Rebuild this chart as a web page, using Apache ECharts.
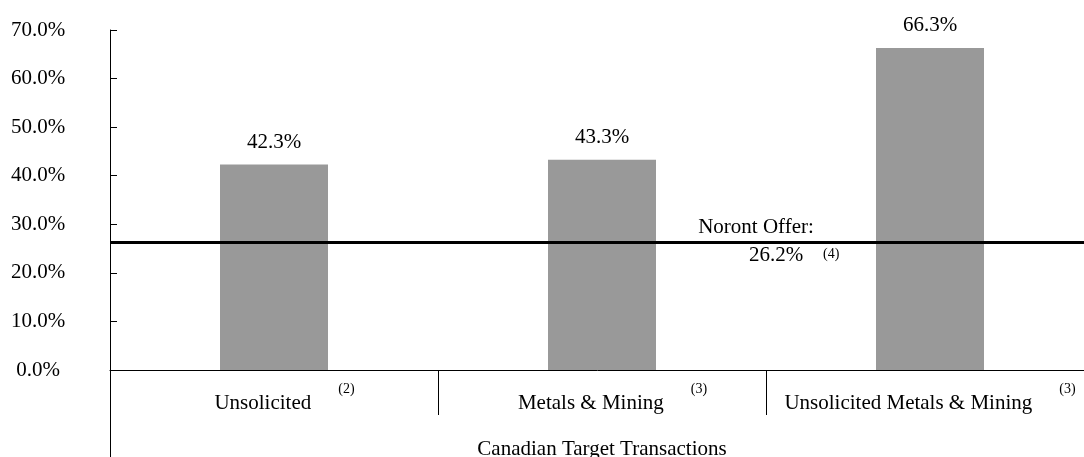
<!DOCTYPE html>
<html>
<head>
<meta charset="utf-8">
<script src="https://cdn.jsdelivr.net/npm/echarts@6/dist/echarts.min.js"></script>
<style>
  html, body { margin: 0; padding: 0; background: #fff; }
  #chart { width: 1084px; height: 457px; }
</style>
</head>
<body>
<div id="chart"></div>
<script>
// Premium paid in Canadian target transactions vs. the Noront offer
const categories = ['Unsolicited', 'Metals & Mining', 'Unsolicited Metals & Mining'];
const footnotes = ['(2)', '(3)', '(3)'];
const premiums = [42.3, 43.3, 66.3];
const groupLabel = 'Canadian Target Transactions';
const yMin = 0, yMax = 70, yStep = 10;
const offerPremium = 26.2;
const offerTitle = 'Noront Offer:';
const offerNote = '(4)';

const FONT = "'Liberation Serif', 'Times New Roman', serif";
const FS = 21;
const pct = v => Number(v).toFixed(1) + '%';

const chart = echarts.init(document.getElementById('chart'));

// left padding of each category name so the name + note pair sits in its band
const namePad = [21, 21, 0];
const rich = { s: { fontFamily: FONT, fontSize: 14, color: '#000', padding: [0, 0, 28, 27] } };
namePad.forEach((p, i) => {
  rich['m' + i] = { fontFamily: FONT, fontSize: FS, color: '#000', padding: [0, 0, 0, p] };
});

chart.setOption({
  animation: false,
  // plot area runs slightly past the right edge of the canvas
  grid: { left: 110, width: 984, top: 30, bottom: 87, containLabel: false, outerBoundsMode: 'none' },
  xAxis: [
    {
      type: 'category',
      data: categories,
      position: 'bottom',
      axisLine: { show: true, lineStyle: { color: '#000', width: 1 } },
      axisTick: { show: true, interval: 0, length: 45, lineStyle: { color: '#000', width: 1 } },
      axisLabel: {
        interval: 0,
        margin: 12,
        formatter: (v, i) => '{m' + i + '|' + v + '}{s|' + footnotes[i] + '}',
        rich: rich
      }
    },
    {
      type: 'category',
      data: [groupLabel],
      position: 'bottom',
      axisLine: { show: false },
      axisTick: { show: true, length: 87, lineStyle: { color: '#000', width: 1 } },
      axisLabel: { margin: 69, fontFamily: FONT, fontSize: FS, color: '#000' }
    }
  ],
  yAxis: {
    type: 'value',
    min: yMin,
    max: yMax,
    interval: yStep,
    axisLine: { show: true, lineStyle: { color: '#000', width: 1 } },
    axisTick: { show: true, inside: true, length: 7, lineStyle: { color: '#000', width: 1 } },
    splitLine: { show: false },
    axisLabel: { formatter: v => pct(v), align: 'center', margin: 72, fontFamily: FONT, fontSize: FS, color: '#000' }
  },
  series: [{
    type: 'bar',
    xAxisIndex: 0,
    data: premiums,
    barWidth: 108,
    itemStyle: { color: '#999999' },
    label: { show: true, position: 'top', distance: 12, formatter: p => pct(p.value), fontFamily: FONT, fontSize: FS, color: '#000' },
    markLine: {
      silent: true,
      symbol: 'none',
      label: { show: false },
      lineStyle: { color: '#000', width: 3, type: 'solid' },
      data: [{ yAxis: offerPremium }]
    }
  }]
});

// annotation for the offer line
const ly = chart.convertToPixel({ yAxisIndex: 0 }, offerPremium);
const cx = chart.convertToPixel({ xAxisIndex: 0 }, categories[1]);
chart.setOption({
  graphic: [
    { type: 'text', x: cx + 154, y: ly - 15, style: { text: offerTitle, font: FS + 'px ' + FONT, fill: '#000', align: 'center', verticalAlign: 'middle' } },
    { type: 'text', x: cx + 174, y: ly + 13, style: { text: pct(offerPremium), font: FS + 'px ' + FONT, fill: '#000', align: 'center', verticalAlign: 'middle' } },
    { type: 'text', x: cx + 221, y: ly + 12, style: { text: offerNote, font: '14px ' + FONT, fill: '#000', align: 'left', verticalAlign: 'middle' } }
  ]
});
</script>
</body>
</html>
